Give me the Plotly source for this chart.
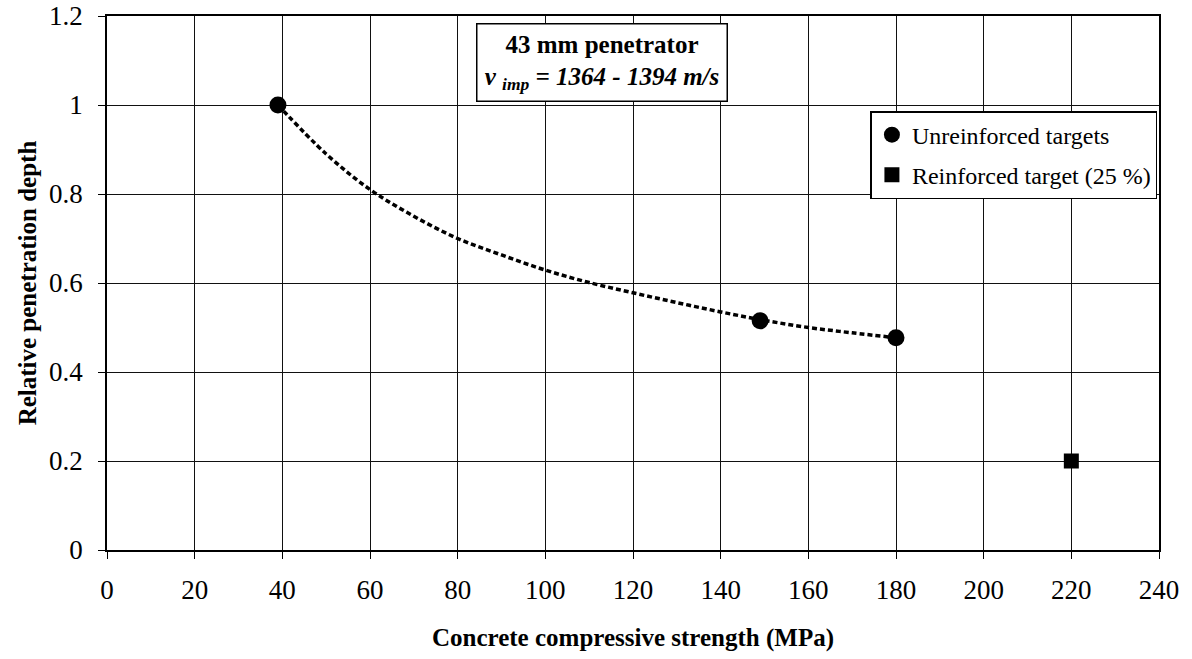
import plotly.graph_objects as go

# Data
unreinf_x = [39, 149, 180]
unreinf_y = [1.0, 0.515, 0.477]
reinf_x = [220]
reinf_y = [0.2]
# Trend curve
trend_x = [39, 50, 60, 70, 80, 90, 100, 110, 120, 130, 140, 150, 160, 170, 180]
trend_y = [1.0, 0.89, 0.81, 0.75, 0.70, 0.663, 0.629, 0.601, 0.578, 0.556, 0.535, 0.516, 0.50, 0.488, 0.477]

x_ticks = [0, 20, 40, 60, 80, 100, 120, 140, 160, 180, 200, 220, 240]
y_ticks = [0, 0.2, 0.4, 0.6, 0.8, 1.0, 1.2]

FONT = "Liberation Serif, Times New Roman, serif"

fig = go.Figure()
fig.add_trace(go.Scatter(x=trend_x, y=trend_y, mode="lines", line=dict(color="black", width=3.5, dash="5px,3px", shape="spline"),
                         showlegend=False, hoverinfo="skip"))
fig.add_trace(go.Scatter(x=unreinf_x, y=unreinf_y, mode="markers", name="Unreinforced targets",
                         marker=dict(symbol="circle", size=17, color="black"), legendgroup="a"))
fig.add_trace(go.Scatter(x=reinf_x, y=reinf_y, mode="markers", name="Reinforced target (25 %)",
                         marker=dict(symbol="square", size=15, color="black"), legendgroup="b"))

axis_common = dict(showline=True, linecolor="black", linewidth=1.5, mirror=True,
                   showgrid=True, gridcolor="#111", gridwidth=1, zeroline=False,
                   ticks="outside", tickcolor="black", ticklen=7, automargin=False,
                   tickfont=dict(family=FONT, size=27, color="black"))

fig.update_xaxes(range=[0, 240], tickvals=x_ticks, ticktext=[str(v) for v in x_ticks],
                 ticklabelstandoff=8,
                 title=dict(text="<b>Concrete compressive strength (MPa)</b>", font=dict(family=FONT, size=25, color="black"), standoff=24),
                 **axis_common)
fig.update_yaxes(range=[0, 1.2], tickvals=y_ticks, ticktext=["0", "0.2", "0.4", "0.6", "0.8", "1", "1.2"],
                 ticklabelstandoff=10,
                 title=dict(text="<b>Relative penetration depth</b>", font=dict(family=FONT, size=25, color="black"), standoff=5),
                 **axis_common)

fig.add_annotation(x=113, y=1.0955, xref="x", yref="y", xanchor="center", yanchor="middle",
                   text="<b>43 mm penetrator</b><br><b><i>v <sub>imp</sub> = 1364 - 1394 m/s</i></b>",
                   showarrow=False, font=dict(family=FONT, size=25, color="black"),
                   bgcolor="white", bordercolor="black", borderwidth=1.5, borderpad=3,
                   width=243, height=70, align="center")

fig.update_layout(
    width=1192, height=659,
    margin=dict(l=107, r=33, t=16, b=109),
    paper_bgcolor="white", plot_bgcolor="white",
    font=dict(family=FONT, color="black"),
    legend=dict(x=0.9985, xanchor="right", y=0.822, yanchor="top",
                bgcolor="white", bordercolor="black", borderwidth=1.5,
                font=dict(family=FONT, size=24, color="black"),
                traceorder="grouped", tracegroupgap=6, itemwidth=30),
)

fig.write_html("out.html")
